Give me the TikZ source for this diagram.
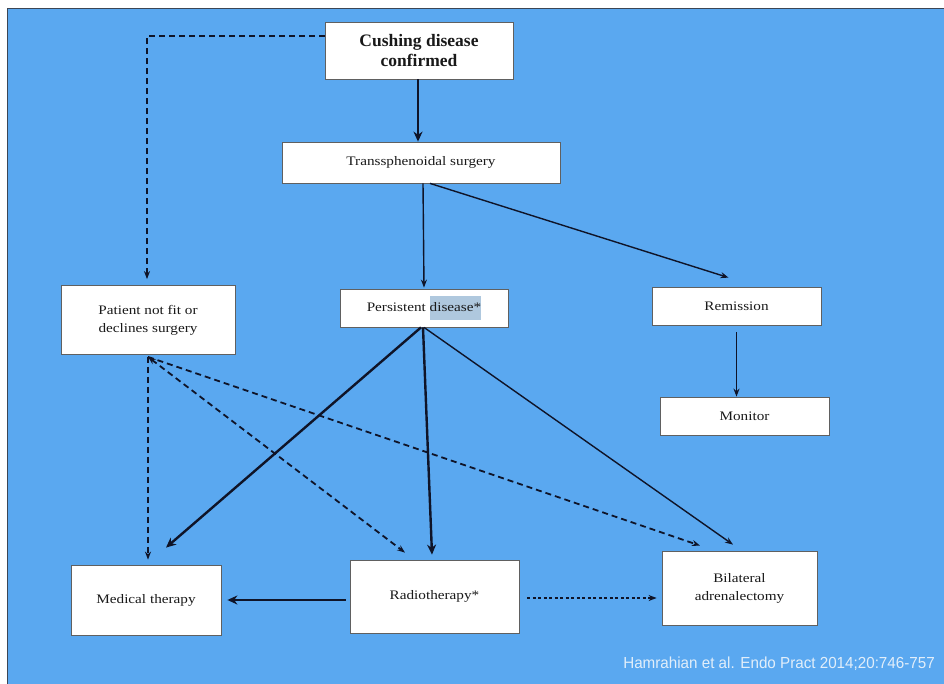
\documentclass[tikz,border=0pt]{standalone}
\usepackage{fontspec}
\setmainfont{Liberation Serif}[FakeStretch=1.17]
\newfontfamily\plainserif{Liberation Serif}
\newfontfamily\citefont{Liberation Sans}[FakeStretch=0.95]
\usetikzlibrary{arrows.meta}
\definecolor{bgblue}{RGB}{90,168,240}
\definecolor{frameline}{RGB}{60,70,85}
\definecolor{arrowc}{RGB}{15,20,40}
\definecolor{hilite}{RGB}{175,200,222}
\definecolor{citec}{RGB}{225,238,250}
\tikzset{
  box/.style={draw=gray!75!black, line width=0.8pt, fill=white, inner sep=2pt, align=center, font=\fontsize{13}{18}\selectfont, text=black!90},
  arr/.style={draw=arrowc, line width=1.4pt, -{Stealth[length=8pt,width=6pt]}},
  thickarr/.style={arr, line width=2.4pt, -{Stealth[length=10pt,width=9pt]}},
  dasharr/.style={arr, line width=1.8pt, dash pattern=on 6pt off 4pt},
  dotarr/.style={arr, line width=1.2pt, dash pattern=on 3pt off 2.5pt}
}
\begin{document}
\begin{tikzpicture}[x=1pt,y=-1pt]
\useasboundingbox (0,0) rectangle (944,684);
\fill[white] (0,0) rectangle (944,684);
\fill[bgblue] (7,8) rectangle (944,684);
\draw[frameline, line width=1.5pt] (7.5,684) -- (7.5,8.5) -- (944,8.5);
% boxes
\node[box, minimum width=188pt, minimum height=57pt, font=\plainserif\bfseries\fontsize{17.5}{20}\selectfont] (cd) at (419,50.5) {Cushing disease\\confirmed};
\node[box, minimum width=278pt, minimum height=41pt] (ts) at (421,162.5) {Transsphenoidal surgery};
\node[box, minimum width=174pt, minimum height=69pt] (pn) at (148,320) {Patient not fit or\\declines surgery};
\node[box, minimum width=168pt, minimum height=38pt] (pd) at (424,308) {Persistent \colorbox{hilite}{\strut\kern-3pt disease*\kern-3pt}};
\node[box, minimum width=169pt, minimum height=38pt] (re) at (736.5,306) {Remission};
\node[box, minimum width=169pt, minimum height=38pt] (mo) at (744.5,416) {Monitor};
\node[box, minimum width=150pt, minimum height=70pt] (mt) at (146,600) {Medical therapy};
\node[box, minimum width=169pt, minimum height=73pt] (rt) at (434.5,596.5) {Radiotherapy*};
\node[box, minimum width=155pt, minimum height=74pt] (ba) at (739.5,588) {Bilateral\\adrenalectomy};
% connectors
\coordinate (corner) at (147,36);
\draw[thickarr] (cd.south -| 418,0) -- (ts.north -| 418,0);
\draw[dasharr] (cd.west |- 0,36) -- (corner) -- ([yshift=6pt]pn.north -| corner);
\draw[arr] (ts.south -| 423,0) -- ([yshift=1pt]pd.north -| 424,0);
\draw[arr] (ts.south -| 430,0) -- ([xshift=-8pt,yshift=9pt]re.north);
\draw[arr] ([yshift=-7pt]re.south) -- (re.south |- mo.north);
% from persistent
\draw[thickarr] (pd.south -| 421,0) -- ([xshift=20pt,yshift=17pt]mt.north);
\draw[thickarr] (pd.south -| 423,0) -- ([xshift=-2.5pt,yshift=5pt]rt.north);
\draw[arr] (pd.south -| 424,0) -- ([xshift=-6.5pt,yshift=6pt]ba.north);
% from patient
\draw[dasharr] ([yshift=-2pt]pn.south) -- ([yshift=5pt]mt.north -| pn.south);
\draw[dasharr, {Stealth[length=8pt,width=6pt]}-{Stealth[length=8pt,width=6pt]}] ([yshift=-2pt]pn.south) -- ([xshift=-29.5pt,yshift=7pt]rt.north);
\draw[dasharr] ([yshift=-2pt]pn.south) -- ([xshift=-39.5pt,yshift=5pt]ba.north);
% bottom row
\draw[thickarr] ([xshift=-4pt]rt.west |- mt.east) -- ([xshift=6pt]mt.east);
\draw[dotarr] ([xshift=8pt]rt.east |- 0,598) -- ([xshift=-5pt]ba.west |- 0,598);
% citation
\node[anchor=east, text=citec, font=\citefont\fontsize{16}{18}\selectfont, inner sep=0pt] (cite) at (935,664) {Hamrahian et al. Endo Pract 2014;20:746-757};
\end{tikzpicture}
\end{document}
